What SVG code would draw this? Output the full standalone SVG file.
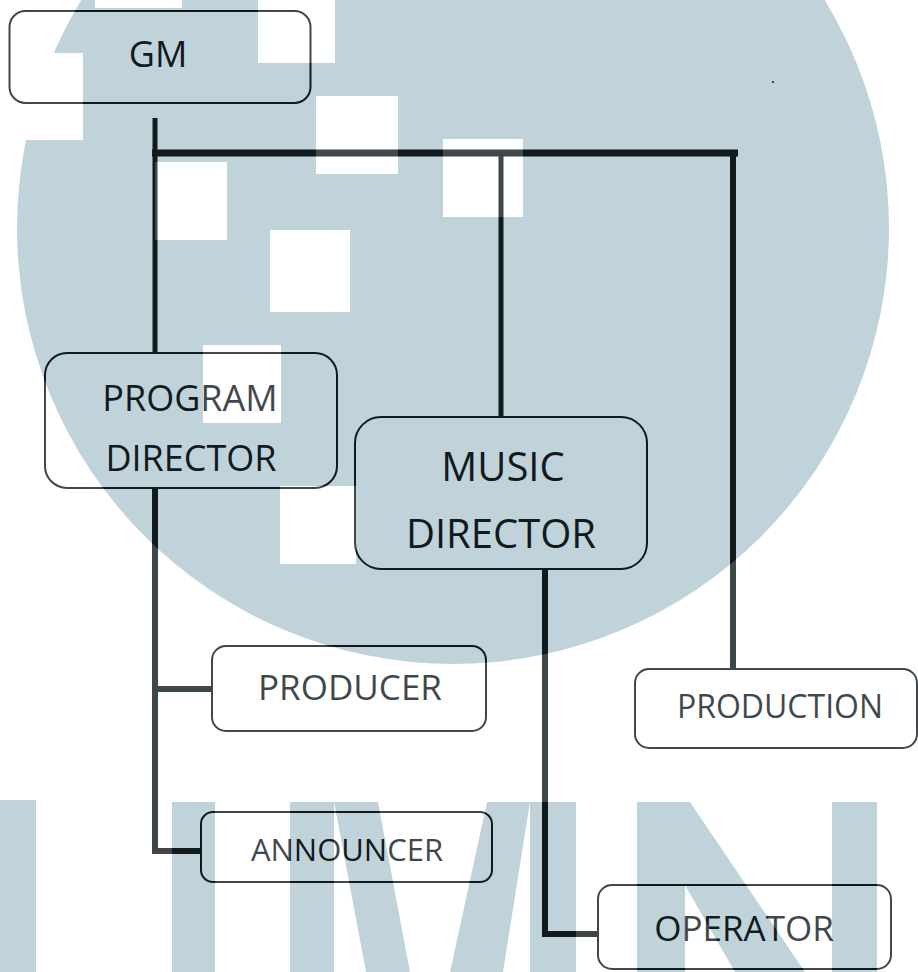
<svg xmlns="http://www.w3.org/2000/svg" xmlns:xlink="http://www.w3.org/1999/xlink" width="918" height="972" viewBox="0 0 918 972">
  <style>
    .box { fill: none; stroke: #111a1d; stroke-width: 2; }
    .lbl { font-family: "Open Sans", "Noto Sans", "Liberation Sans", sans-serif; fill: #111a1d; text-anchor: middle; }
    .con { fill: none; stroke: #111a1d; stroke-linecap: butt; stroke-linejoin: miter; }
  </style>
  <defs>
    <g id="wmBlue">
      <circle cx="453" cy="228" r="436"/>
      <rect x="0" y="800" width="36" height="172"/>
      <rect x="172" y="802" width="43" height="170"/>
      <rect x="290" y="802" width="44" height="170"/>
      <polygon points="334,802 378,802 410,972 366,972"/>
      <polygon points="487,802 530,802 503,972 450,972"/>
      <rect x="530" y="802" width="46" height="170"/>
      <rect x="637" y="802" width="48" height="170"/>
      <polygon points="637,802 690,802 805,972 735,972"/>
      <rect x="832" y="802" width="45" height="170"/>
    </g>
    <g id="wmHoles">
      <rect x="0" y="53" width="83" height="87"/>
      <rect x="95" y="-70" width="87" height="78"/>
      <rect x="258" y="-30" width="77" height="93"/>
      <rect x="316" y="96" width="82" height="78"/>
      <rect x="443" y="139" width="80" height="78"/>
      <rect x="155" y="162" width="72" height="78"/>
      <rect x="270" y="230" width="80" height="82"/>
      <rect x="203" y="345" width="78" height="78"/>
      <rect x="280" y="486" width="76" height="78"/>
    </g>
    <mask id="offWm" maskUnits="userSpaceOnUse" x="0" y="0" width="918" height="972">
      <rect x="0" y="0" width="918" height="972" fill="#fff"/>
      <use xlink:href="#wmBlue" href="#wmBlue" fill="#000"/>
      <use xlink:href="#wmHoles" href="#wmHoles" fill="#fff"/>
    </mask>
  </defs>

  <rect x="0" y="0" width="918" height="972" fill="#ffffff"/>

  <g id="watermark">
    <use xlink:href="#wmBlue" href="#wmBlue" fill="#c1d3da"/>
    <use xlink:href="#wmHoles" href="#wmHoles" fill="#ffffff"/>
  </g>

  <g id="connectors">
    <path class="con" stroke-width="5" d="M155,118 V353"/>
    <path class="con" stroke-width="7" d="M152,153 H738"/>
    <path class="con" stroke-width="5" d="M501,153 V417"/>
    <path class="con" stroke-width="6" d="M733,150 V669"/>
    <path class="con" stroke-width="6" d="M155,488 V851 H201"/>
    <path class="con" stroke-width="6" d="M155,689 H212"/>
    <path class="con" stroke-width="6" d="M545,569 V934 H598"/>
  </g>

  <g id="gm">
    <rect class="box" x="9.5" y="11" width="301" height="92" rx="16"/>
    <text class="lbl" x="158" y="67" font-size="36">GM</text>
  </g>
  <g id="program-director">
    <rect class="box" x="45" y="353" width="292" height="135" rx="22"/>
    <text class="lbl" x="190" y="411" font-size="36">PROGRAM</text>
    <text class="lbl" x="191" y="471" font-size="36">DIRECTOR</text>
  </g>
  <g id="music-director">
    <rect class="box" x="355" y="417" width="292" height="152" rx="26"/>
    <text class="lbl" x="503" y="481" font-size="40">MUSIC</text>
    <text class="lbl" x="501" y="548" font-size="40">DIRECTOR</text>
  </g>
  <g id="producer">
    <rect class="box" x="212" y="646" width="274" height="85" rx="14"/>
    <text class="lbl" x="350" y="700" font-size="35">PRODUCER</text>
  </g>
  <g id="production">
    <rect class="box" x="635" y="669" width="282" height="79" rx="14"/>
    <text class="lbl" x="780" y="718" font-size="32">PRODUCTION</text>
  </g>
  <g id="announcer">
    <rect class="box" x="201" y="812" width="291" height="70" rx="12"/>
    <text class="lbl" x="347" y="861" font-size="31">ANNOUNCER</text>
  </g>
  <g id="operator">
    <rect class="box" x="598" y="885" width="293" height="84" rx="14"/>
    <text class="lbl" x="744" y="941" font-size="35">OPERATOR</text>
  </g>

  <circle cx="773" cy="82" r="1" fill="#111a1d"/>

  <g id="watermark-fade">
    <rect x="0" y="0" width="918" height="972" fill="#ffffff" fill-opacity="0.2" mask="url(#offWm)"/>
  </g>
</svg>
